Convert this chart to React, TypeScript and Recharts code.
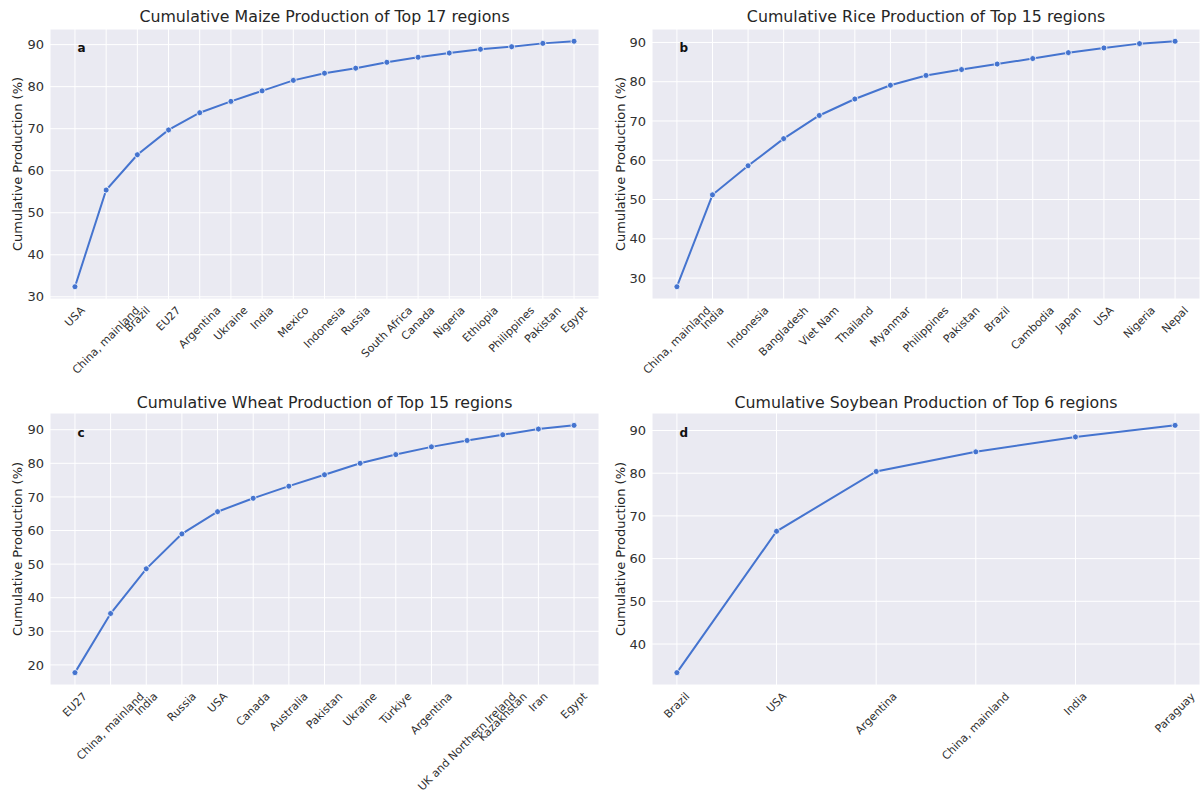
import React from "react";
import {
  LineChart,
  Line,
  XAxis,
  YAxis,
  CartesianGrid,
} from "recharts";

// cumulative share of world production (%), regions in descending order
const maizeRegions = [
  "USA", "China, mainland", "Brazil", "EU27", "Argentina", "Ukraine", "India",
  "Mexico", "Indonesia", "Russia", "South Africa", "Canada", "Nigeria",
  "Ethiopia", "Philippines", "Pakistan", "Egypt",
];
const maizeShare = [
  32.4, 55.4, 63.8, 69.7, 73.8, 76.5, 79.0, 81.5, 83.2, 84.4, 85.8, 87.0,
  88.0, 88.9, 89.5, 90.3, 90.8,
];

const riceRegions = [
  "China, mainland", "India", "Indonesia", "Bangladesh", "Viet Nam",
  "Thailand", "Myanmar", "Philippines", "Pakistan", "Brazil", "Cambodia",
  "Japan", "USA", "Nigeria", "Nepal",
];
const riceShare = [
  27.8, 51.2, 58.6, 65.5, 71.4, 75.6, 79.1, 81.6, 83.1, 84.5, 85.9, 87.4,
  88.6, 89.7, 90.3,
];

const wheatRegions = [
  "EU27", "China, mainland", "India", "Russia", "USA", "Canada", "Australia",
  "Pakistan", "Ukraine", "Türkiye", "Argentina", "UK and Northern Ireland",
  "Kazakhstan", "Iran", "Egypt",
];
const wheatShare = [
  17.7, 35.3, 48.6, 59.0, 65.6, 69.6, 73.2, 76.6, 80.0, 82.6, 84.9, 86.8,
  88.5, 90.2, 91.3,
];

const soyRegions = [
  "Brazil", "USA", "Argentina", "China, mainland", "India", "Paraguay",
];
const soyShare = [33.3, 66.4, 80.4, 85.0, 88.5, 91.2];

const maizeTicks = [30, 40, 50, 60, 70, 80, 90];
const riceTicks = [30, 40, 50, 60, 70, 80, 90];
const wheatTicks = [20, 30, 40, 50, 60, 70, 80, 90];
const soyTicks = [40, 50, 60, 70, 80, 90];

const FONT = "'DejaVu Sans', Verdana, sans-serif";
const LINE = "#4574cf";
const BG = "#eaeaf2";
const TEXT = "#303030";

let measureCtx: CanvasRenderingContext2D | null = null;
function textWidth(s: string, font: string) {
  if (!measureCtx) measureCtx = document.createElement("canvas").getContext("2d");
  if (!measureCtx) return s.length * 6;
  measureCtx.font = font;
  return measureCtx.measureText(s).width;
}

function buildRows(regions: string[], values: number[]) {
  return regions.map((region, i) => ({ idx: i, region, value: values[i] }));
}

// matplotlib-style 5% autoscale margins
function padded(values: number[]): [number, number] {
  const lo = Math.min(...values);
  const hi = Math.max(...values);
  const pad = (hi - lo) * 0.05;
  return [lo - pad, hi + pad];
}

// rotated 45°, centred under the tick like ha="center"
function RotatedTick(props: any) {
  const { x, y, payload, regions } = props;
  const label: string = regions[payload.value] ?? "";
  const size = 11;
  const w = textWidth(label, `${size}px ${FONT}`);
  const h = size * 1.17;
  const cx = x;
  const cy = y + 5 + ((w + h) * Math.SQRT1_2) / 2;
  return (
    <text
      x={cx}
      y={cy}
      textAnchor="middle"
      dominantBaseline="central"
      fontSize={size}
      fontFamily={FONT}
      fill={TEXT}
      transform={`rotate(-45 ${cx} ${cy})`}
    >
      {label}
    </text>
  );
}

interface PanelProps {
  regions: string[];
  values: number[];
  yTicks: number[];
  left: number;
  top: number;
  width: number;
  height: number;
  margin: { top: number; right: number; bottom: number; left: number };
  xAxisHeight: number;
}

function Panel({ regions, values, yTicks, left, top, width, height, margin, xAxisHeight }: PanelProps) {
  const rows = buildRows(regions, values);
  const n = regions.length;
  const xPad = (n - 1) * 0.05;
  return (
    <div style={{ position: "absolute", left, top }}>
      <LineChart width={width} height={height} data={rows} margin={margin}>
        <CartesianGrid fill={BG} fillOpacity={1} stroke="#ffffff" strokeWidth={1} />
        <XAxis
          type="number"
          dataKey="idx"
          domain={[-xPad, n - 1 + xPad]}
          ticks={rows.map((r) => r.idx)}
          interval={0}
          allowDataOverflow
          axisLine={false}
          tickLine={false}
          tickSize={0}
          tickMargin={0}
          height={xAxisHeight}
          tick={<RotatedTick regions={regions} />}
        />
        <YAxis
          type="number"
          domain={padded(values)}
          ticks={yTicks}
          allowDataOverflow
          axisLine={false}
          tickLine={false}
          tickSize={0}
          tickMargin={6}
          width={40}
          tick={{ fontSize: 13, fill: TEXT, fontFamily: FONT }}
        />
        <Line
          type="linear"
          dataKey="value"
          stroke={LINE}
          strokeWidth={2}
          dot={{ r: 3, fill: LINE, stroke: "#ffffff", strokeWidth: 0.8 }}
          isAnimationActive={false}
        />
      </LineChart>
    </div>
  );
}

const titles = [
  { x: 324.5, y: 22, text: "Cumulative Maize Production of Top 17 regions" },
  { x: 926, y: 22, text: "Cumulative Rice Production of Top 15 regions" },
  { x: 324.5, y: 408, text: "Cumulative Wheat Production of Top 15 regions" },
  { x: 926, y: 408, text: "Cumulative Soybean Production of Top 6 regions" },
];
const yLabels = [
  { x: 17, y: 164 },
  { x: 620, y: 164 },
  { x: 17, y: 549 },
  { x: 620, y: 549 },
];
const letters = [
  { x: 77.5, y: 52, text: "a" },
  { x: 679.5, y: 52, text: "b" },
  { x: 77.5, y: 437, text: "c" },
  { x: 679.5, y: 437, text: "d" },
];

export default function App() {
  return (
    <div
      style={{
        position: "absolute",
        left: 0,
        top: 0,
        width: 1203,
        height: 809,
        background: "#ffffff",
        overflow: "hidden",
      }}
    >
      <Panel
        regions={maizeRegions}
        values={maizeShare}
        yTicks={maizeTicks}
        left={0}
        top={0}
        width={600}
        height={400}
        margin={{ top: 29, right: 1, left: 10, bottom: 11 }}
        xAxisHeight={90}
      />
      <Panel
        regions={riceRegions}
        values={riceShare}
        yTicks={riceTicks}
        left={600}
        top={0}
        width={603}
        height={400}
        margin={{ top: 29, right: 3, left: 12, bottom: 11 }}
        xAxisHeight={90}
      />
      <Panel
        regions={wheatRegions}
        values={wheatShare}
        yTicks={wheatTicks}
        left={0}
        top={390}
        width={600}
        height={419}
        margin={{ top: 23, right: 1, left: 10, bottom: 14 }}
        xAxisHeight={110}
      />
      <Panel
        regions={soyRegions}
        values={soyShare}
        yTicks={soyTicks}
        left={600}
        top={390}
        width={603}
        height={419}
        margin={{ top: 23, right: 3, left: 12, bottom: 14 }}
        xAxisHeight={110}
      />
      <svg
        width={1203}
        height={809}
        style={{ position: "absolute", left: 0, top: 0, pointerEvents: "none" }}
      >
        {titles.map((t) => (
          <text
            key={t.text}
            x={t.x}
            y={t.y}
            textAnchor="middle"
            fontSize={15.8}
            fontFamily={FONT}
            fill="#262626"
          >
            {t.text}
          </text>
        ))}
        {yLabels.map((p, i) => (
          <text
            key={i}
            x={p.x}
            y={p.y}
            textAnchor="middle"
            dominantBaseline="central"
            fontSize={13}
            fontFamily={FONT}
            fill="#262626"
            transform={`rotate(-90 ${p.x} ${p.y})`}
          >
            Cumulative Production (%)
          </text>
        ))}
        {letters.map((l) => (
          <text
            key={l.text}
            x={l.x}
            y={l.y}
            fontSize={12}
            fontWeight="bold"
            fontFamily={FONT}
            fill="#111111"
          >
            {l.text}
          </text>
        ))}
      </svg>
    </div>
  );
}
